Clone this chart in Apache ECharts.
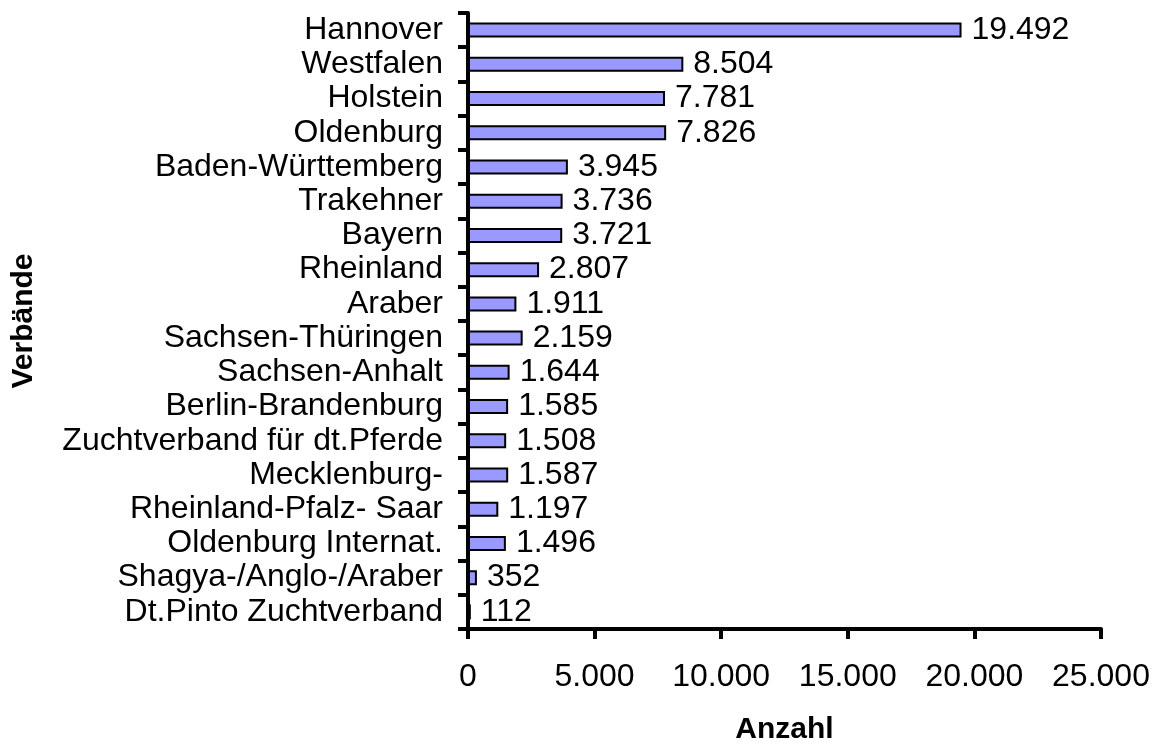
<!DOCTYPE html>
<html><head><meta charset="utf-8">
<script src="https://cdn.jsdelivr.net/npm/echarts@6/dist/echarts.min.js"></script>
<style>html,body{margin:0;padding:0;background:#fff}#c{width:1157px;height:745px}</style>
</head><body><div id="c"></div>
<script>
const categories = ["Hannover","Westfalen","Holstein","Oldenburg","Baden-Württemberg","Trakehner","Bayern","Rheinland","Araber","Sachsen-Thüringen","Sachsen-Anhalt","Berlin-Brandenburg","Zuchtverband für dt.Pferde","Mecklenburg-","Rheinland-Pfalz- Saar","Oldenburg Internat.","Shagya-/Anglo-/Araber","Dt.Pinto Zuchtverband"];
const values = [19492,8504,7781,7826,3945,3736,3721,2807,1911,2159,1644,1585,1508,1587,1197,1496,352,112];
const xTicks = [0,5000,10000,15000,20000,25000];
const fmt = v => String(v).replace(/\B(?=(\d{3})+(?!\d))/g, '.');
const font = "'Liberation Sans', Arial, sans-serif";
const fs = 32;
const chart = echarts.init(document.getElementById('c'));
chart.setOption({
  animation:false,
  grid:{left:468,right:56,top:13,bottom:116,containLabel:false,outerBoundsMode:'none'},
  xAxis:{type:'value',min:xTicks[0],max:xTicks[xTicks.length-1],interval:xTicks[1]-xTicks[0],
    axisLine:{show:true,lineStyle:{color:'#000',width:4}},
    axisTick:{show:true,length:10,lineStyle:{color:'#000',width:4}},
    splitLine:{show:false},
    axisLabel:{formatter:v=>fmt(v),fontFamily:font,fontSize:fs,color:'#000',margin:32,hideOverlap:false},
    name:'Anzahl',nameLocation:'middle',nameGap:86,
    nameTextStyle:{fontFamily:font,fontSize:30,fontWeight:'bold',color:'#000'}},
  yAxis:{type:'category',data:categories,inverse:true,
    axisLine:{show:true,lineStyle:{color:'#000',width:4}},
    axisTick:{show:true,length:10,lineStyle:{color:'#000',width:4}},
    axisLabel:{interval:0,hideOverlap:false,fontFamily:font,fontSize:fs,color:'#000',margin:25},
    name:'Verbände',nameLocation:'middle',nameGap:429,nameRotate:90,
    nameTextStyle:{fontFamily:font,fontSize:30,fontWeight:'bold',color:'#000'}},
  series:[{type:'bar',data:values,barWidth:15,
    itemStyle:{color:'#9999ff',borderColor:'#000',borderWidth:2},
    label:{show:true,position:'right',distance:10,formatter:p=>fmt(p.value),
      fontFamily:font,fontSize:fs,color:'#000'}}]
});
</script></body></html>
